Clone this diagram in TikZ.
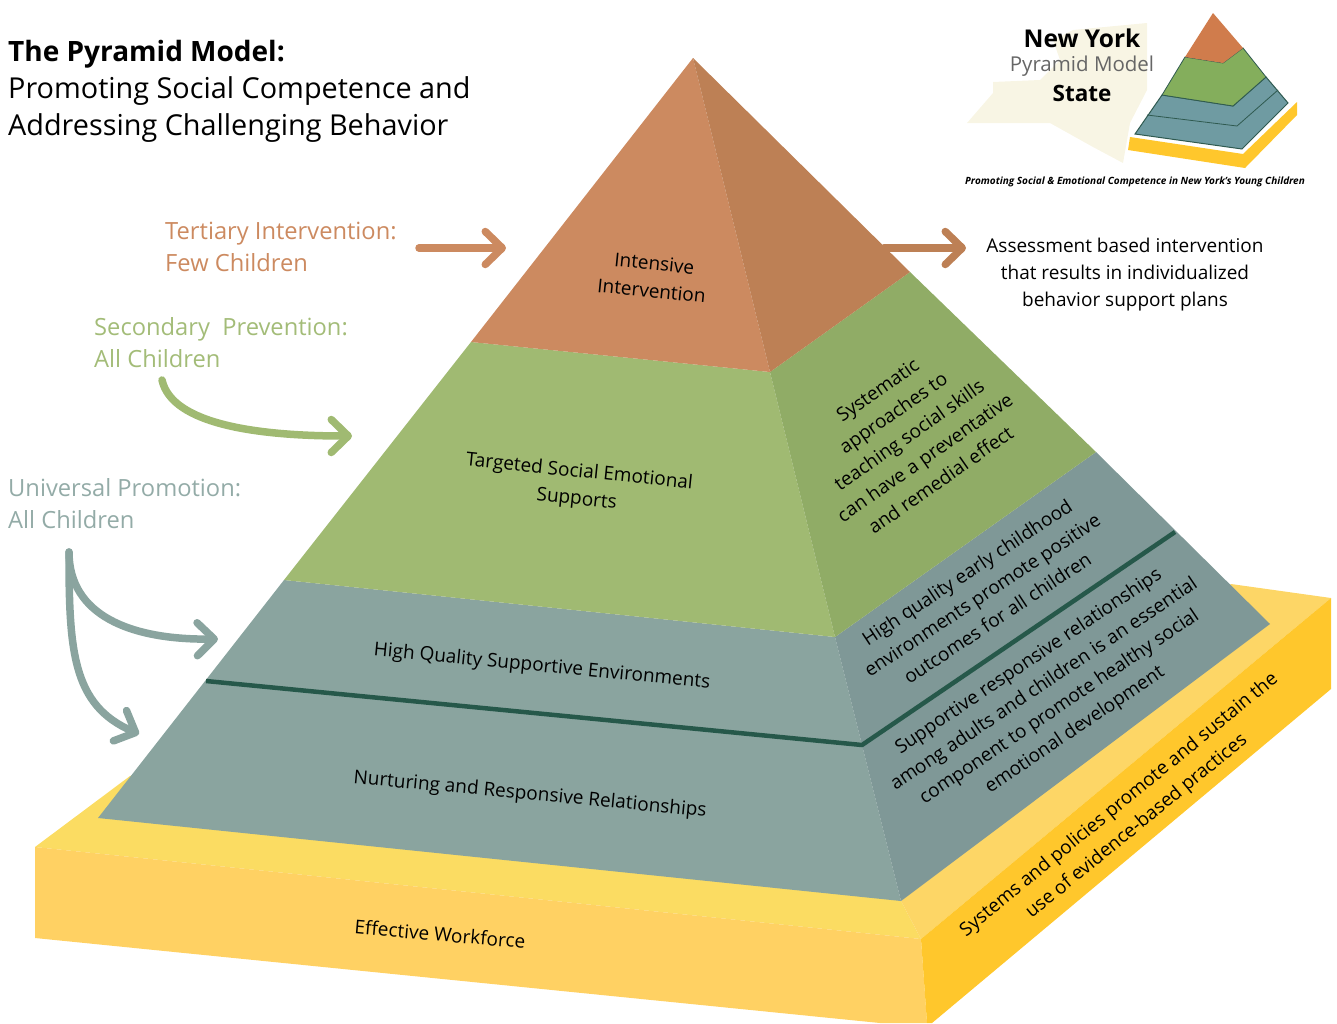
\documentclass[tikz,border=0pt]{standalone}
\usepackage{fontspec}
\setmainfont{Open Sans}
\usetikzlibrary{arrows.meta}
\definecolor{terraF}{HTML}{CC8A60}
\definecolor{terraR}{HTML}{BD8055}
\definecolor{greenF}{HTML}{A0BA72}
\definecolor{greenR}{HTML}{90AC66}
\definecolor{tealF}{HTML}{8AA49F}
\definecolor{tealR}{HTML}{7F9897}
\definecolor{darkline}{HTML}{26584A}
\definecolor{yelTopF}{HTML}{FBDC62}
\definecolor{yelTopR}{HTML}{FDD666}
\definecolor{yelFront}{HTML}{FFD163}
\definecolor{yelRight}{HTML}{FFC72C}
\definecolor{labTerra}{HTML}{CC8A60}
\definecolor{labGreen}{HTML}{A3BC78}
\definecolor{labTeal}{HTML}{93ABA7}
\definecolor{logoCream}{HTML}{F8F5E4}
\definecolor{logoOrange}{HTML}{D07C4C}
\definecolor{logoGreen}{HTML}{84AE5C}
\definecolor{logoBlue}{HTML}{6F9BA2}
\definecolor{logoEdge}{HTML}{2F5A50}
\newcommand{\fs}[2]{\fontsize{#1}{#2}\selectfont}
\tikzset{
  face/.style={draw=none},
  flowarrow/.style={line width=7.5pt,line cap=round,line join=round,-{Straight Barb[length=17pt,width=33pt,round]}},
  pyrtext/.style={align=center,inner sep=0pt,text=black,font=\fs{19}{27.5}},
  sidetext/.style={align=center,inner sep=0pt,text=black,font=\fs{19}{27}},
  leftlabel/.style={align=left,anchor=north west,inner sep=0pt,font=\fs{23.7}{32}},
}
\begin{document}
\begin{tikzpicture}[x=1pt,y=-1pt]
\useasboundingbox (0,0) rectangle (1337,1023);
% base
\fill[yelTopF,face] (35,847) -- (130,776) -- (600,700) -- (901,901) -- (921,939) -- cycle;
\fill[yelTopR,face] (901,901) -- (921,939) -- (1331,598) -- (1231,584) -- (1100,700) -- cycle;
\fill[yelFront,face] (35,847) -- (921,939) -- (927,1023) -- (880,1023) -- (35,938) -- cycle;
\fill[yelRight,face] (921,939) -- (1331,598) -- (1331,689) -- (932,1023) -- (927,1023) -- cycle;
% pyramid
\fill[tealF,face] (284,580) -- (835,637) -- (901,901) -- (98,818) -- cycle;
\fill[tealR,face] (835,637) -- (1096,452) -- (1270,624) -- (901,901) -- cycle;
\fill[greenF,face] (471,342) -- (770,372) -- (835,637) -- (284,580) -- cycle;
\fill[greenR,face] (770,372) -- (910,272) -- (1096,452) -- (835,637) -- cycle;
\fill[terraF,face] (693,58) -- (770,372) -- (471,342) -- cycle;
\fill[terraR,face] (693,58) -- (910,272) -- (770,372) -- cycle;
\draw[darkline,line width=4.5pt,line join=miter] (206,681) -- (862,745) -- (1175,532);
% title
\node[anchor=north west,align=left,inner sep=0pt,font=\fs{28.8}{37}] (title) at (8,40) {{\fs{28}{37}\textbf{The Pyramid Model:}}\\Promoting Social Competence and\\Addressing Challenging Behavior};
% left labels
\node[leftlabel,text=labTerra] (tert) at (165,222) {Tertiary Intervention:\\Few Children};
\node[leftlabel,text=labGreen] (sec) at (94,317) {Secondary\ \ Prevention:\\All Children};
\node[leftlabel,text=labTeal] (uni) at (8,478) {Universal Promotion:\\All Children};
% arrows
\coordinate (tertS) at (419,248);
\coordinate (tertE) at (506,248);
\coordinate (rightS) at (884,248);
\coordinate (rightE) at (966,248);
\coordinate (secS) at (162,380);
\coordinate (secE) at (352,436);
\coordinate (uniS) at (69,552);
\coordinate (uniA) at (218,639);
\coordinate (uniB) at (139,734);
\draw[flowarrow,terraF] (tertS) -- (tertE);
\draw[flowarrow,terraR] (rightS) -- (rightE);
\draw[flowarrow,greenF] (secS) .. controls (172,425) and (260,436) .. (secE);
\draw[flowarrow,tealF] (uniS) .. controls (69,615) and (130,640) .. (uniA);
\draw[flowarrow,tealF] (uniS) .. controls (69,650) and (72,705) .. (uniB);
% right note
\node[sidetext] (note) at (1125,275) {Assessment based intervention\\that results in individualized\\behavior support plans};
% pyramid labels
\node[pyrtext,rotate=-5.8] (l1) at (653,277) {Intensive\\Intervention};
\node[pyrtext,rotate=-5.8] (l2) at (578,486) {Targeted Social Emotional\\Supports};
\node[pyrtext,rotate=-5.6] (l3) at (542,667) {High Quality Supportive Environments};
\node[pyrtext,rotate=-5.4] (l4) at (530,795) {Nurturing and Responsive Relationships};
\node[pyrtext,rotate=-5] (l5) at (440,934) {Effective Workforce};
\node[pyrtext,rotate=35] (r1) at (909,435) {Systematic\\approaches to\\teaching social skills\\can have a preventative\\and remedial effect};
\node[pyrtext,rotate=33.5] (r2) at (982,595) {High quality early childhood\\environments promote positive\\outcomes for all children};
\node[pyrtext,rotate=34] (r3) at (1052,696) {Supportive responsive relationships\\among adults and children is an essential\\component to promote healthy social\\emotional development};
\node[align=center,inner sep=0pt,text=black,font=\fs{18.9}{27.5},rotate=39.3] (r4) at (1128,816) {Systems and policies promote and sustain the\\use of evidence-based practices};
% logo
\fill[logoCream] (967,123) -- (993,93) -- (993,82) -- (1040,80) -- (1060,60) -- (1053,40) -- (1073,30) -- (1147,23) -- (1147,90) -- (1130,123) -- (1123,163) -- (1093,147) -- (1050,123) -- cycle;
\fill[yelRight] (1130,137) -- (1243,154) -- (1297,102) -- (1297,115) -- (1245,168) -- (1128,150) -- cycle;
\fill[logoBlue,draw=logoEdge,line width=1pt] (1135,134) -- (1162,95) -- (1233,106) -- (1266,77) -- (1288,103) -- (1242,149) -- cycle;
\draw[logoEdge,line width=.8pt] (1147,115) -- (1237,126) -- (1278,90);
\fill[logoGreen,draw=logoEdge,line width=.8pt] (1162,95) -- (1185,57) -- (1223,63) -- (1243,48) -- (1266,77) -- (1233,106) -- cycle;
\fill[logoOrange] (1213,13) -- (1243,48) -- (1223,63) -- (1185,57) -- cycle;
\node[inner sep=0pt,font=\fs{24.5}{26}\bfseries] (lg1) at (1082,38) {New York};
\node[inner sep=0pt,font=\fs{20.5}{24},text=black!60] (lg2) at (1082,66) {Pyramid Model};
\node[inner sep=0pt,font=\fs{22.5}{24}\bfseries] (lg3) at (1082,93) {State};
\node[inner sep=0pt,font=\fs{10}{11}\bfseries\itshape] (lg4) at (1135,182) {Promoting Social \& Emotional Competence in New York's Young Children};
\end{tikzpicture}
\end{document}
